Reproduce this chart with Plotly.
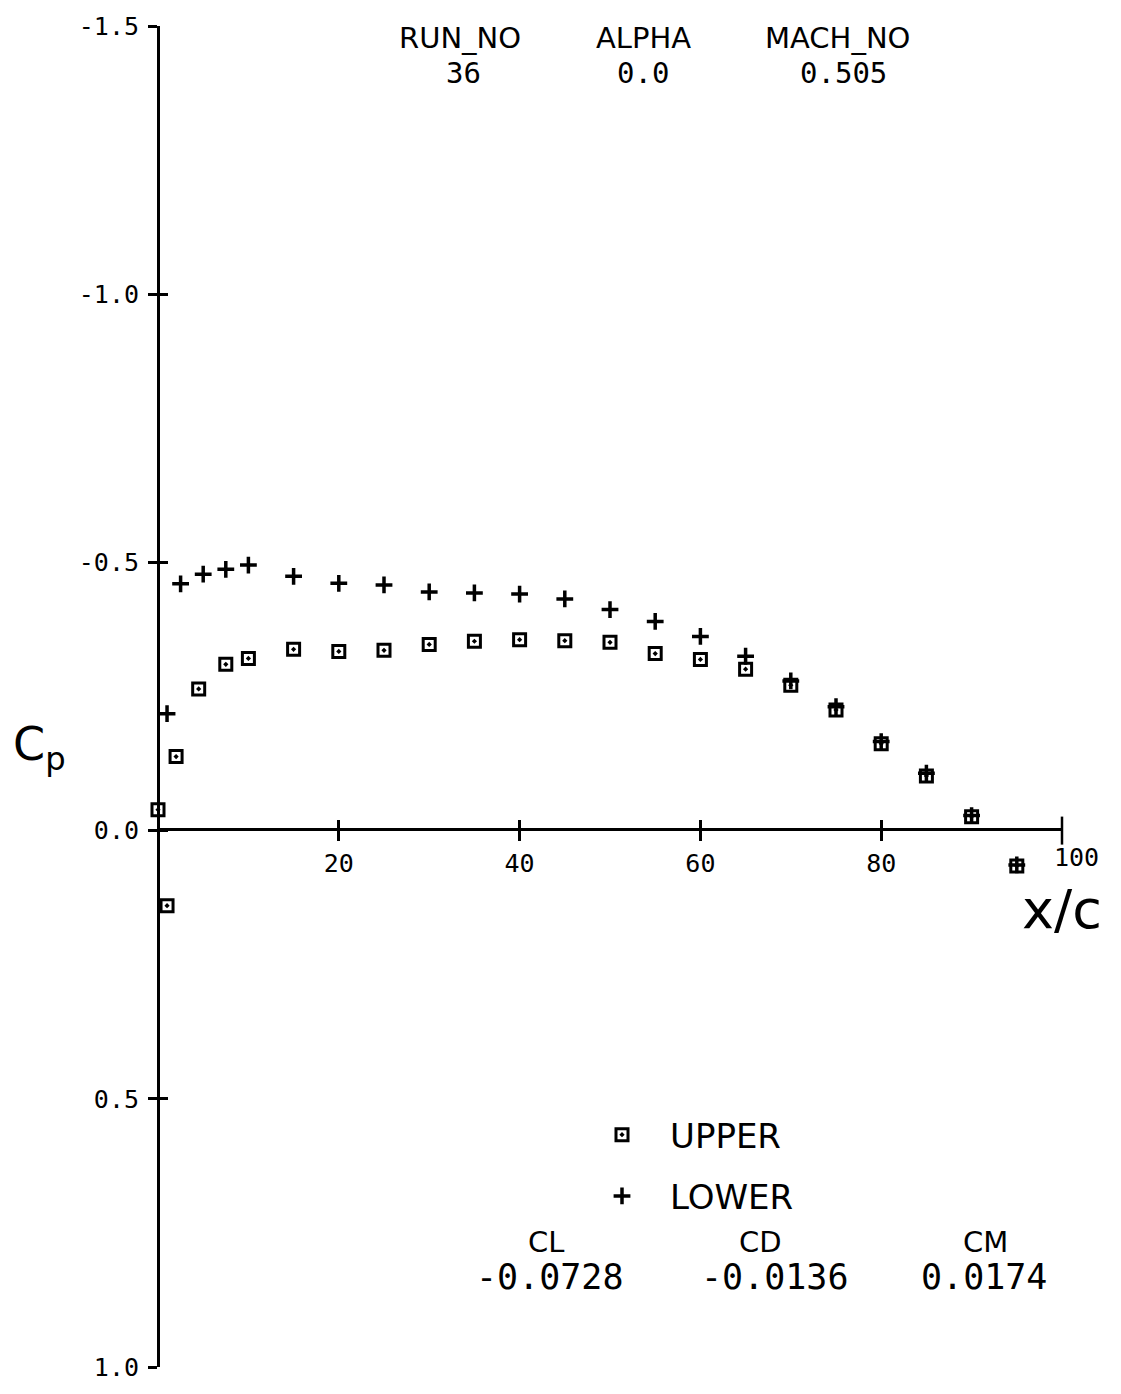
import plotly.graph_objects as go

# Pressure distribution, run 36
x_upper = [0, 1, 2, 4.5, 7.5, 10, 15, 20, 25, 30, 35, 40, 45, 50, 55, 60, 65, 70, 75, 80, 85, 90, 95]
cp_upper = [-0.039, 0.140, -0.138, -0.264, -0.310, -0.321, -0.338, -0.334, -0.336, -0.347, -0.353,
            -0.356, -0.354, -0.351, -0.330, -0.319, -0.301, -0.271, -0.225, -0.162, -0.102, -0.026, 0.066]

x_lower = [1, 2.5, 5, 7.5, 10, 15, 20, 25, 30, 35, 40, 45, 50, 55, 60, 65, 70, 75, 80, 85, 90, 95]
cp_lower = [-0.218, -0.460, -0.478, -0.487, -0.495, -0.474, -0.461, -0.458, -0.445, -0.443, -0.441,
            -0.432, -0.412, -0.390, -0.362, -0.325, -0.279, -0.231, -0.166, -0.107, -0.028, 0.064]

y_ticks = [-1.5, -1.0, -0.5, 0.0, 0.5, 1.0]
y_ticktext = ["-1.5", "-1.0", "-0.5", "0.0", "0.5", "1.0"]
x_ticks = [20, 40, 60, 80]
x_ticktext = ["20", "40", "60", "80"]

header_names = ["RUN_NO", "ALPHA", "MACH_NO"]
header_values = ["36", "0.0", "0.505"]
coef_names = ["CL", "CD", "CM"]
coef_values = ["-0.0728", "-0.0136", "0.0174"]

W, H = 1121, 1394
L, R, T, B = 158, 59, 18, 19
SANS = "DejaVu Sans"
MONO = "DejaVu Sans Mono"


def paper(xp, yp):
    """Pixel position on the page -> paper coordinates."""
    return (xp - L) / (W - L - R), (H - B - yp) / (H - T - B)


fig = go.Figure()
fig.add_trace(go.Scatter(
    x=x_upper, y=cp_upper, mode="markers", name="UPPER", legendgroup="u",
    cliponaxis=False,
    marker=dict(symbol="square-open-dot", size=12, color="black", line=dict(width=3, color="black")),
))
fig.add_trace(go.Scatter(
    x=x_lower, y=cp_lower, mode="markers", name="LOWER", legendgroup="l",
    cliponaxis=False,
    marker=dict(symbol="cross-thin", size=12, color="black", line=dict(width=3.5, color="black")),
))

x0_pos = paper(0, 831)[1]

fig.update_layout(
    width=W, height=H,
    margin=dict(l=L, r=R, t=T, b=B),
    paper_bgcolor="white", plot_bgcolor="white",
    showlegend=True,
    legend=dict(
        x=paper(574, 0)[0], y=paper(0, 1111)[1], xanchor="left", yanchor="top",
        font=dict(family=SANS, size=34, color="black"),
        itemwidth=86, tracegroupgap=14, bgcolor="rgba(0,0,0,0)",
    ),
    xaxis=dict(
        range=[0, 100], anchor="free", position=x0_pos,
        showgrid=False, zeroline=False, showline=True, linewidth=3, linecolor="black",
        ticks="outside", ticklen=10, tickwidth=2.5, tickcolor="black",
        tickvals=x_ticks, ticktext=x_ticktext, ticklabelstandoff=1,
        tickfont=dict(family=MONO, size=25, color="black"),
    ),
    xaxis2=dict(
        range=[0, 100], matches="x", overlaying="x", anchor="free", position=x0_pos,
        showgrid=False, zeroline=False, showline=False,
        ticks="inside", ticklen=9, tickwidth=2.5, tickcolor="black",
        tickvals=x_ticks + [100], showticklabels=False,
    ),
    yaxis=dict(
        range=[1.0, -1.5], anchor="free", position=0,
        showgrid=False, zeroline=False, showline=True, linewidth=3, linecolor="black",
        ticks="outside", ticklen=9, tickwidth=2.5, tickcolor="black",
        tickvals=y_ticks, ticktext=y_ticktext, ticklabelstandoff=4,
        tickfont=dict(family=MONO, size=25, color="black"),
    ),
    yaxis2=dict(
        range=[1.0, -1.5], matches="y", overlaying="y", anchor="free", position=0,
        showgrid=False, zeroline=False, showline=False,
        ticks="inside", ticklen=9, tickwidth=2.5, tickcolor="black",
        tickvals=y_ticks, showticklabels=False,
    ),
)

# invisible trace so the secondary axes are drawn
fig.add_trace(go.Scatter(x=[None], y=[None], xaxis="x2", yaxis="y2", showlegend=False, hoverinfo="skip"))
# x-axis end tick at 100 crosses the axis on both sides
fig.add_trace(go.Scatter(x=[100], y=[0], mode="markers", showlegend=False, hoverinfo="skip",
                         cliponaxis=False,
                         marker=dict(symbol="line-ns", size=20, line=dict(width=2.5, color="black"))))

annotations = []


def text(xp, yp, s, size, family=SANS, xanchor="center"):
    px, py = paper(xp, yp)
    annotations.append(dict(
        x=px, y=py, xref="paper", yref="paper", text=s, showarrow=False,
        xanchor=xanchor, yanchor="middle",
        font=dict(family=family, size=size, color="black"),
    ))


# run header
for cx, name in zip([460, 643, 837], header_names):
    text(cx, 30, name, 29)
for cx, val in zip([463, 643, 843], header_values):
    text(cx, 66, val, 29, MONO)

# end label of the x axis
text(1076, 859, "100", 25, MONO)

# axis titles
text(40, 748, "C<sub>p</sub>", 46)
text(1062, 912, "x/c", 54)

# force coefficients
for cx, name in zip([546, 760, 985], coef_names):
    text(cx, 1249, name, 29)
for cx, val in zip([550, 775, 984], coef_values):
    text(cx, 1284, val, 35, MONO)

fig.update_layout(annotations=annotations)
fig.write_html("out.html")
